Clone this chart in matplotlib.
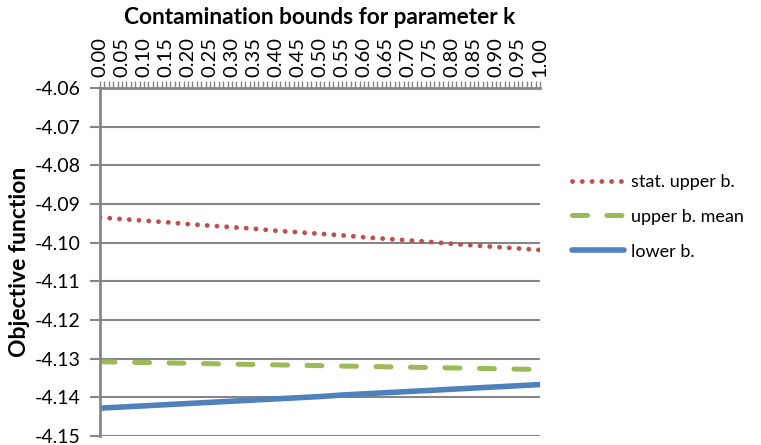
import numpy as np
import matplotlib
matplotlib.use("Agg")
import matplotlib.pyplot as plt
from matplotlib.ticker import MultipleLocator

plt.rcParams['font.family'] = ['Lato', 'DejaVu Sans']

# Contamination parameter k (labelled every 0.05)
k = [0.00, 0.05, 0.10, 0.15, 0.20, 0.25, 0.30, 0.35, 0.40, 0.45, 0.50,
     0.55, 0.60, 0.65, 0.70, 0.75, 0.80, 0.85, 0.90, 0.95, 1.00]

stat_upper = [-4.0935, -4.0939, -4.0943, -4.0947, -4.0952, -4.0956, -4.0960,
              -4.0964, -4.0969, -4.0973, -4.0977, -4.0981, -4.0986, -4.0990,
              -4.0994, -4.0998, -4.1003, -4.1007, -4.1011, -4.1015, -4.1019]

upper_mean = [-4.1308, -4.1309, -4.1310, -4.1311, -4.1312, -4.1313, -4.1314,
              -4.1315, -4.1316, -4.1317, -4.1318, -4.1319, -4.1320, -4.1321,
              -4.1322, -4.1323, -4.1324, -4.1325, -4.1326, -4.1327, -4.1328]

lower = [-4.1428, -4.1425, -4.1422, -4.1419, -4.1416, -4.1413, -4.1410,
         -4.1407, -4.1404, -4.1401, -4.1398, -4.1394, -4.1391, -4.1388,
         -4.1385, -4.1382, -4.1379, -4.1376, -4.1373, -4.1370, -4.1367]

y_ticks = [-4.06, -4.07, -4.08, -4.09, -4.10, -4.11, -4.12, -4.13, -4.14, -4.15]
x_labels = ["%.2f" % v for v in k]

grey = '#868686'
fig = plt.figure(figsize=(7.61, 4.45), dpi=100)
ax = fig.add_axes([100 / 761, 1 - 436 / 445, 440 / 761, 348 / 445])

ax.plot(k, stat_upper, color='#C0504D', lw=3.5, linestyle=(0, (0.01, 2.0)),
        dash_capstyle='round', label='stat. upper b.')
ax.plot(k, upper_mean, color='#9BBB59', lw=3.6, linestyle=(0, (3.0, 3.9)),
        dash_capstyle='round', label='upper b. mean')
ax.plot(k, lower, color='#4F81BD', lw=4.0, solid_capstyle='round',
        label='lower b.')

ax.set_xlim(0, 1)
ax.set_ylim(-4.15, -4.06)

ax.set_yticks(y_ticks)
ax.set_yticklabels(["%.2f" % v for v in y_ticks], fontsize=14)
ax.yaxis.grid(True, color=grey, lw=1.5)
ax.set_axisbelow(True)

ax.xaxis.tick_top()
ax.xaxis.set_label_position('top')
ax.set_xticks(k)
ax.set_xticklabels(x_labels, rotation=90, fontsize=14.5)
ax.xaxis.set_minor_locator(MultipleLocator(0.01))
ax.tick_params(axis='x', which='both', direction='out', length=5, width=1,
               color=grey, pad=3)
ax.tick_params(axis='y', which='major', direction='out', length=7, width=1.5,
               color=grey, pad=7)

for side in ['right', 'bottom']:
    ax.spines[side].set_visible(False)
ax.spines['left'].set_color(grey)
ax.spines['left'].set_linewidth(2)
ax.spines['top'].set_color(grey)
ax.spines['top'].set_linewidth(2)

ax.set_title('Contamination bounds for parameter k', fontsize=16.3,
             fontweight='bold', pad=9)
ax.set_ylabel('Objective function', fontsize=16.5, fontweight='bold', labelpad=3)

leg = ax.legend(loc='upper left', bbox_to_anchor=(1.035, 0.80), frameon=False,
                fontsize=13, handlelength=2.9, handletextpad=0.4,
                labelspacing=1.05)

fig.savefig('out.png', dpi=100)
